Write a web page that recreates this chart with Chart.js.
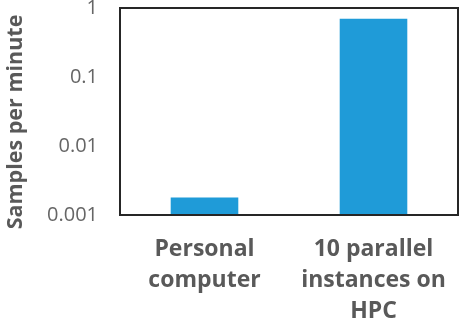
<!DOCTYPE html>
<html><head><meta charset="utf-8">
<script src="https://cdn.jsdelivr.net/npm/chart.js@4"></script>
<style>html,body{margin:0;padding:0;background:#fff}#wrap{width:464px;height:327px}</style>
</head><body><div id="wrap"><canvas id="c" width="464" height="327"></canvas></div>
<script>
const categories = [["Personal","computer"],["10 parallel","instances on","HPC"]];
const samplesPerMinute = [0.0018, 0.7];
const yTicks = [0.001, 0.01, 0.1, 1];
const yTitle = "Samples per minute";

const boxPlugin = {
  id: 'box',
  afterDraw(chart) {
    const a = chart.chartArea, ctx = chart.ctx;
    ctx.save();
    ctx.strokeStyle = '#262626';
    ctx.lineWidth = 2;
    ctx.strokeRect(a.left, a.top, a.right - a.left, a.bottom - a.top);
    ctx.translate(16, 122);
    ctx.rotate(-Math.PI / 2);
    ctx.fillStyle = '#595959';
    ctx.font = 'bold 21.5px "Open Sans"';
    ctx.textAlign = 'center';
    ctx.textBaseline = 'middle';
    ctx.fillText(yTitle, 0, 0);
    ctx.restore();
  }
};

new Chart(document.getElementById('c'), {
  type: 'bar',
  data: {
    labels: categories,
    datasets: [{ data: samplesPerMinute, backgroundColor: '#1f9bd8', categoryPercentage: 0.8, barPercentage: 0.5 }]
  },
  options: {
    responsive: false,
    animation: false,
    layout: { padding: { top: 8, right: 6, left: 48, bottom: 0 } },
    plugins: { legend: { display: false }, tooltip: { enabled: false } },
    scales: {
      x: {
        grid: { display: false, drawTicks: false },
        border: { display: false },
        afterFit(s) { s.height = 112; s.paddingLeft = 0; s.paddingRight = 0; },
        ticks: { color: '#595959', font: { family: 'Open Sans', size: 23, weight: 'bold', lineHeight: 1.35 }, padding: 19, maxRotation: 0, autoSkip: false }
      },
      y: {
        type: 'logarithmic',
        min: 0.001, max: 1,
        afterBuildTicks(scale) { scale.ticks = yTicks.map(v => ({ value: v })); },
        afterFit(s) { s.width = 72; s.paddingTop = 0; s.paddingBottom = 0; },
        grid: { display: false, drawTicks: false },
        border: { display: false },
        ticks: { color: '#666666', font: { family: 'Open Sans', size: 20 }, padding: 22,
          callback: v => String(v) }
      }
    }
  },
  plugins: [boxPlugin]
});
</script></body></html>
